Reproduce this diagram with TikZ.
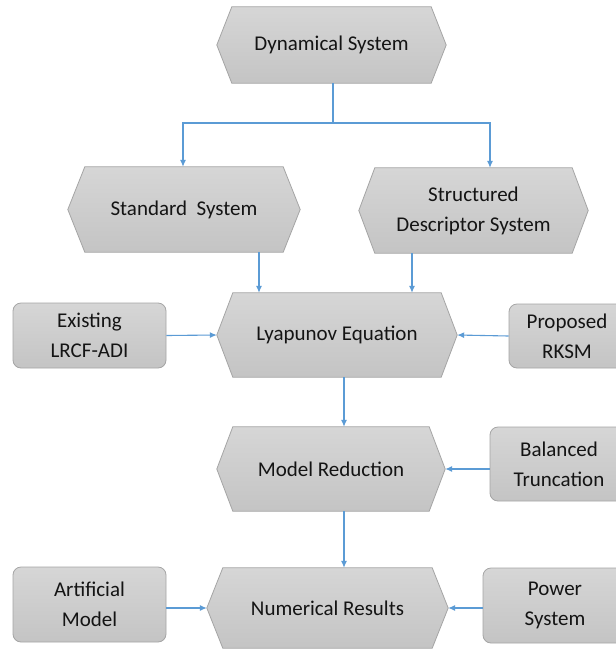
\documentclass[tikz,border=0pt]{standalone}
\usepackage{fontspec}
\setmainfont{Carlito}
\usetikzlibrary{arrows.meta,backgrounds,calc}

\definecolor{boxtop}{HTML}{D6D6D6}
\definecolor{boxbot}{HTML}{C4C4C4}
\definecolor{boxline}{HTML}{A5A5A5}
\definecolor{linkblue}{HTML}{5B9BD5}
\definecolor{txt}{HTML}{141414}

\tikzset{
  labelfont/.style={font=\fontsize{21}{30}\selectfont, text=txt, align=center},
  hexnode/.style={labelfont, inner sep=0pt},
  hexshape/.style={draw=boxline, line width=0.8pt, top color=boxtop, bottom color=boxbot},
  sidebox/.style={labelfont, draw=boxline, line width=0.8pt, rounded corners=8pt,
                  top color=boxtop, bottom color=boxbot, inner sep=0pt},
  link/.style={draw=linkblue, line width=1.1pt},
  arrowlink/.style={link, -{Latex[length=7pt,width=6pt]}},
}

\begin{document}
\begin{tikzpicture}[x=1pt, y=-1pt]
  \useasboundingbox (0,0) rectangle (616,649);
  \clip (0,0) rectangle (616,649);

  % flow stages (hexagons are drawn behind them below)
  \node[hexnode, minimum width=229pt, minimum height=76pt] (dyn) at (331.5,45) {Dynamical System};
  \node[hexnode, minimum width=232pt, minimum height=85pt] (std) at (184,209.5) {Standard\ \ System};
  \node[hexnode, minimum width=229pt, minimum height=85pt] (sds) at (473.5,210.5) {Structured\\Descriptor System};
  \node[hexnode, minimum width=240pt, minimum height=84pt] (lya) at (337,335) {Lyapunov Equation};
  \node[hexnode, minimum width=228pt, minimum height=84pt] (mr) at (331,469) {Model Reduction};
  \node[hexnode, minimum width=241pt, minimum height=80pt] (num) at (327.5,608) {Numerical Results};

  % side inputs
  \node[sidebox, minimum width=153pt, minimum height=65pt] (ex) at (89.5,335.5) {Existing\\LRCF-ADI};
  \node[sidebox, minimum width=116pt, minimum height=64pt] (rk) at (567,336) {Proposed\\RKSM};
  \node[sidebox, minimum width=138pt, minimum height=74pt] (bt) at (559,464) {Balanced\\Truncation};
  \node[sidebox, minimum width=153pt, minimum height=75pt] (art) at (89.5,604.5) {Artificial\\Model};
  \node[sidebox, minimum width=144pt, minimum height=75pt] (pw) at (555,605.5) {Power\\System};

  % hexagon outlines
  \begin{scope}[on background layer]
    \fill[white] (0,0) rectangle (616,649);
    \foreach \n/\c in {dyn/15, std/17, sds/16, lya/16, mr/16, num/16}{
      \path[hexshape] (\n.west) -- ([xshift=\c pt]\n.north west) -- ([xshift=-\c pt]\n.north east)
        -- (\n.east) -- ([xshift=-\c pt]\n.south east) -- ([xshift=\c pt]\n.south west) -- cycle;
    }
  \end{scope}

  % connectors
  \coordinate (split) at (333,123);
  \coordinate (spine) at (344,0);
  \draw[link] (dyn.south -| split) -- (split);
  \draw[arrowlink] (split) -| ([xshift=-1pt]std.north);
  \draw[arrowlink] (split) -| ([xshift=16.5pt]sds.north);
  \draw[arrowlink] ([xshift=75pt]std.south) -- ([xshift=75pt]std.south |- lya.north);
  \draw[arrowlink] ([xshift=-61.5pt]sds.south) -- ([xshift=-61.5pt]sds.south |- lya.north);
  \draw[arrowlink] (lya.south -| spine) -- (mr.north -| spine);
  \draw[arrowlink] (mr.south -| spine) -- (num.north -| spine);
  \draw[arrowlink] (ex.east) -- (lya.west);
  \draw[arrowlink] (rk.west) -- (lya.east);
  \draw[arrowlink] (mr.east -| bt.west) -- (mr.east);
  \draw[arrowlink] (num.west -| art.east) -- (num.west);
  \draw[arrowlink] (num.east -| pw.west) -- (num.east);
\end{tikzpicture}
\end{document}
